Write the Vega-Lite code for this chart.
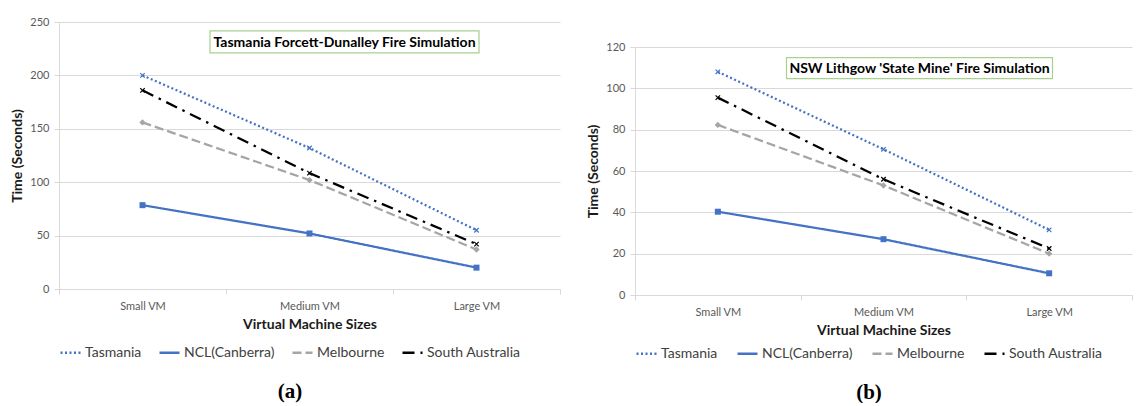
{
  "$schema": "https://vega.github.io/schema/vega-lite/v6.json",
  "padding": {"left": 10, "top": 16, "right": 0, "bottom": 0},
  "spacing": 25,
  "background": "white",
  "config": {
    "font": "Lato",
    "view": {"stroke": null},
    "axis": {"labelFont": "Lato", "labelFontSize": 11, "labelColor": "#595959", "titleFont": "Lato", "titleFontSize": 14, "titleFontWeight": "bold", "titleColor": "#1a1a1a", "domainColor": "#D9D9D9", "tickColor": "#D9D9D9", "gridColor": "#D9D9D9", "tickSize": 5, "labelPadding": 5},
    "axisX": {"grid": false, "tickBand": "extent", "labelAngle": 0, "labelPadding": 6, "titlePadding": 6},
    "axisY": {"grid": true, "titlePadding": 5},
    "legend": {"orient": "bottom", "direction": "horizontal", "symbolType": "stroke", "symbolSize": 400, "symbolStrokeWidth": 2.5, "labelFont": "Lato", "labelFontSize": 14, "labelColor": "#404040", "labelOffset": 3, "columnPadding": 12, "titleOrient": "bottom", "titleAnchor": "middle", "titleFont": "Liberation Serif", "titleFontSize": 21, "titleFontWeight": "bold", "titleColor": "#000000", "titlePadding": 21}
  },
  "resolve": {"scale": {"color": "independent", "strokeDash": "independent"}, "legend": {"color": "independent", "strokeDash": "independent"}},
  "hconcat": [
    {
      "width": 501,
      "height": 267,
      "layer": [
        {
          "data": {"values": [
            {"vm": "Small VM", "series": "Tasmania", "time": 200},
            {"vm": "Medium VM", "series": "Tasmania", "time": 132},
            {"vm": "Large VM", "series": "Tasmania", "time": 55},
            {"vm": "Small VM", "series": "NCL(Canberra)", "time": 78.5},
            {"vm": "Medium VM", "series": "NCL(Canberra)", "time": 52},
            {"vm": "Large VM", "series": "NCL(Canberra)", "time": 20},
            {"vm": "Small VM", "series": "Melbourne", "time": 156},
            {"vm": "Medium VM", "series": "Melbourne", "time": 102},
            {"vm": "Large VM", "series": "Melbourne", "time": 37},
            {"vm": "Small VM", "series": "South Australia", "time": 186},
            {"vm": "Medium VM", "series": "South Australia", "time": 108.5},
            {"vm": "Large VM", "series": "South Australia", "time": 42}
          ]},
          "encoding": {
            "x": {"field": "vm", "type": "nominal", "sort": ["Small VM", "Medium VM", "Large VM"], "scale": {"type": "band", "paddingInner": 0, "paddingOuter": 0}, "title": "Virtual Machine Sizes"},
            "y": {"field": "time", "type": "quantitative", "scale": {"domain": [0, 250], "nice": false}, "axis": {"values": [0, 50, 100, 150, 200, 250]}, "title": "Time (Seconds)"},
            "color": {"field": "series", "type": "nominal", "scale": {"domain": ["Tasmania", "NCL(Canberra)", "Melbourne", "South Australia"], "range": ["#4472C4", "#4472C4", "#A5A5A5", "#000000"]}, "legend": {"title": "(a)", "symbolType": "stroke", "offset": 10}}
          },
          "layer": [
            {
              "mark": {"type": "line", "strokeWidth": 2.25},
              "encoding": {
                "strokeDash": {"field": "series", "type": "nominal", "scale": {"domain": ["Tasmania", "NCL(Canberra)", "Melbourne", "South Australia"], "range": [[2, 2.5], [1, 0], [9, 4], [12, 6, 2.5, 6]]}, "legend": {"title": "(a)", "symbolType": "stroke", "offset": 10}}
              }
            },
            {
              "transform": [{"filter": {"field": "series", "equal": "NCL(Canberra)"}}],
              "mark": {"type": "point", "filled": true, "size": 36, "opacity": 1, "shape": "square"},
              "encoding": {}
            },
            {
              "transform": [{"filter": {"field": "series", "equal": "Melbourne"}}],
              "mark": {"type": "point", "filled": true, "size": 40, "opacity": 1, "shape": "diamond"},
              "encoding": {}
            },
            {
              "transform": [{"filter": {"field": "series", "oneOf": ["Tasmania", "South Australia"]}}],
              "mark": {"type": "point", "filled": false, "size": 20, "strokeWidth": 1.2, "opacity": 1, "shape": "M-1,-1L1,1M1,-1L-1,1"},
              "encoding": {}
            }
          ]
        },
        {
          "data": {"values": [{"label": "Tasmania  Forcett-Dunalley Fire Simulation"}]},
          "layer": [
            {
              "mark": {"type": "point", "shape": "M-134.5,-11H134.5V11H-134.5Z", "size": 4, "filled": false, "fill": "white", "fillOpacity": 1, "stroke": "#A9D18E", "strokeWidth": 1.2, "opacity": 1, "xOffset": 35},
              "encoding": {"x": {"datum": "Medium VM"}, "y": {"datum": 231.4}}
            },
            {
              "mark": {"type": "text", "font": "Lato", "fontSize": 14, "fontWeight": "bold", "color": "#000000", "xOffset": 35, "dy": 1},
              "encoding": {"x": {"datum": "Medium VM"}, "y": {"datum": 231.4}, "text": {"field": "label"}}
            }
          ]
        }
      ]
    },
    {
      "spacing": 0,
      "vconcat": [
        {
          "width": 497,
          "height": 19,
          "data": {"values": [{"label": ""}]},
          "mark": {"type": "text"},
          "encoding": {"text": {"field": "label"}}
        },
        {
          "width": 497,
          "height": 248,
          "layer": [
            {
              "data": {"values": [
                {"vm": "Small VM", "series": "Tasmania", "time": 108},
                {"vm": "Medium VM", "series": "Tasmania", "time": 70.5},
                {"vm": "Large VM", "series": "Tasmania", "time": 31.5},
                {"vm": "Small VM", "series": "NCL(Canberra)", "time": 40.3},
                {"vm": "Medium VM", "series": "NCL(Canberra)", "time": 27},
                {"vm": "Large VM", "series": "NCL(Canberra)", "time": 10.5},
                {"vm": "Small VM", "series": "Melbourne", "time": 82.3},
                {"vm": "Medium VM", "series": "Melbourne", "time": 53},
                {"vm": "Large VM", "series": "Melbourne", "time": 20},
                {"vm": "Small VM", "series": "South Australia", "time": 95.5},
                {"vm": "Medium VM", "series": "South Australia", "time": 56},
                {"vm": "Large VM", "series": "South Australia", "time": 22.5}
              ]},
              "encoding": {
                "x": {"field": "vm", "type": "nominal", "sort": ["Small VM", "Medium VM", "Large VM"], "scale": {"type": "band", "paddingInner": 0, "paddingOuter": 0}, "title": "Virtual Machine Sizes"},
                "y": {"field": "time", "type": "quantitative", "scale": {"domain": [0, 120], "nice": false}, "axis": {"values": [0, 20, 40, 60, 80, 100, 120]}, "title": "Time (Seconds)"},
                "color": {"field": "series", "type": "nominal", "scale": {"domain": ["Tasmania", "NCL(Canberra)", "Melbourne", "South Australia"], "range": ["#4472C4", "#4472C4", "#A5A5A5", "#000000"]}, "legend": {"title": "(b)", "symbolType": "stroke", "offset": 5, "columnPadding": 14}}
              },
              "layer": [
                {
                  "mark": {"type": "line", "strokeWidth": 2.25},
                  "encoding": {
                    "strokeDash": {"field": "series", "type": "nominal", "scale": {"domain": ["Tasmania", "NCL(Canberra)", "Melbourne", "South Australia"], "range": [[2, 2.5], [1, 0], [9, 4], [12, 6, 2.5, 6]]}, "legend": {"title": "(b)", "symbolType": "stroke", "offset": 5, "columnPadding": 14}}
                  }
                },
                {
                  "transform": [{"filter": {"field": "series", "equal": "NCL(Canberra)"}}],
                  "mark": {"type": "point", "filled": true, "size": 36, "opacity": 1, "shape": "square"},
                  "encoding": {}
                },
                {
                  "transform": [{"filter": {"field": "series", "equal": "Melbourne"}}],
                  "mark": {"type": "point", "filled": true, "size": 40, "opacity": 1, "shape": "diamond"},
                  "encoding": {}
                },
                {
                  "transform": [{"filter": {"field": "series", "oneOf": ["Tasmania", "South Australia"]}}],
                  "mark": {"type": "point", "filled": false, "size": 20, "strokeWidth": 1.2, "opacity": 1, "shape": "M-1,-1L1,1M1,-1L-1,1"},
                  "encoding": {}
                }
              ]
            },
            {
              "data": {"values": [{"label": "NSW Lithgow 'State Mine'  Fire Simulation"}]},
              "layer": [
                {
                  "mark": {"type": "point", "shape": "M-133,-10.5H133V10.5H-133Z", "size": 4, "filled": false, "fill": "white", "fillOpacity": 1, "stroke": "#A9D18E", "strokeWidth": 1.2, "opacity": 1, "xOffset": 36},
                  "encoding": {"x": {"datum": "Medium VM"}, "y": {"datum": 109.8}}
                },
                {
                  "mark": {"type": "text", "font": "Lato", "fontSize": 14, "fontWeight": "bold", "color": "#000000", "xOffset": 36, "dy": 1},
                  "encoding": {"x": {"datum": "Medium VM"}, "y": {"datum": 109.8}, "text": {"field": "label"}}
                }
              ]
            }
          ]
        }
      ]
    }
  ]
}
